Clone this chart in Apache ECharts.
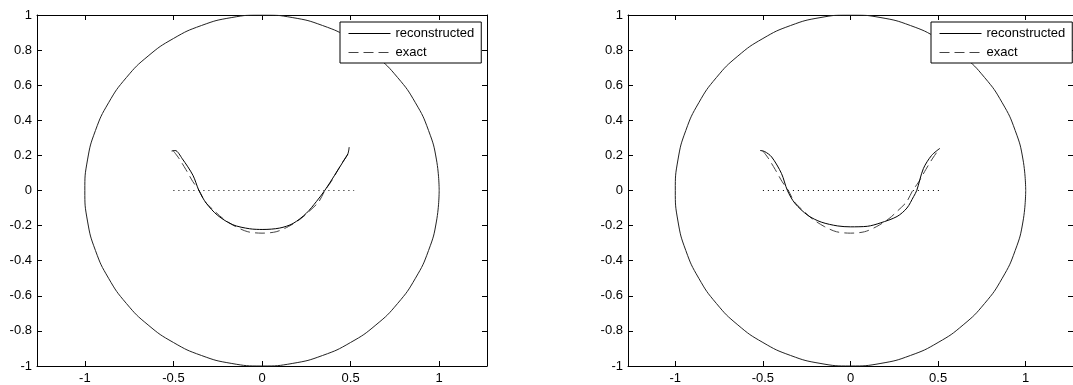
<!DOCTYPE html>
<html><head><meta charset="utf-8">
<script src="https://cdn.jsdelivr.net/npm/echarts@6/dist/echarts.min.js"></script>
<style>html,body{margin:0;padding:0;background:#fff}#c{width:1073px;height:385px}</style>
</head><body><div id="c"></div><script>
const xTicks = [-1, -0.5, 0, 0.5, 1];
const yTicks = [-1, -0.8, -0.6, -0.4, -0.2, 0, 0.2, 0.4, 0.6, 0.8, 1];
const seriesNames = ['reconstructed', 'exact'];
// unit circle boundary (10 degree steps)
const circleX = [1,0.985,0.94,0.866,0.766,0.643,0.5,0.342,0.174,0,-0.174,-0.342,-0.5,-0.643,-0.766,-0.866,-0.94,-0.985,-1,-0.985,-0.94,-0.866,-0.766,-0.643,-0.5,-0.342,-0.174,0,0.174,0.342,0.5,0.643,0.766,0.866,0.94,0.985,1];
const circleY = [0,0.174,0.342,0.5,0.643,0.766,0.866,0.94,0.985,1,0.985,0.94,0.866,0.766,0.643,0.5,0.342,0.174,0,-0.174,-0.342,-0.5,-0.643,-0.766,-0.866,-0.94,-0.985,-1,-0.985,-0.94,-0.866,-0.766,-0.643,-0.5,-0.342,-0.174,0];
const baseX = [-0.5, 0.52];
const baseY = [0, 0];
const exactX = [-0.5,-0.47,-0.43,-0.39,-0.355,-0.32,-0.27,-0.22,-0.15,-0.08,0,0.08,0.15,0.22,0.27,0.32,0.355,0.39,0.43,0.47,0.5];
const exactY = [0.225,0.185,0.12,0.05,0,-0.065,-0.115,-0.16,-0.205,-0.235,-0.243,-0.235,-0.205,-0.16,-0.115,-0.065,0,0.05,0.12,0.185,0.228];
const recon1X = [-0.51,-0.49,-0.45,-0.39,-0.356,-0.315,-0.25,-0.165,-0.07,0.005,0.1,0.175,0.25,0.307,0.354,0.41,0.457,0.485,0.492];
const recon1Y = [0.225,0.228,0.181,0.087,0,-0.072,-0.142,-0.195,-0.218,-0.222,-0.214,-0.188,-0.13,-0.063,0,0.087,0.163,0.21,0.247];
const recon2X = [-0.516,-0.49,-0.45,-0.394,-0.36,-0.318,-0.243,-0.167,-0.073,0,0.096,0.17,0.266,0.322,0.36,0.378,0.416,0.463,0.51];
const recon2Y = [0.228,0.222,0.191,0.097,0,-0.072,-0.142,-0.18,-0.202,-0.207,-0.204,-0.185,-0.148,-0.1,-0.035,0,0.125,0.2,0.24];

const zip = (a, b) => a.map((v, i) => [v, b[i]]);
const FONT = 'Liberation Sans, Arial, sans-serif';
const grids = [
  {left: 37, top: 15, width: 450, height: 354},
  {left: 628, top: 15, width: 450, height: 354}
];
const legendLeft = [340, 931];
const recons = [zip(recon1X, recon1Y), zip(recon2X, recon2Y)];

const xAxis = [], yAxis = [], series = [], legend = [];
grids.forEach((g, i) => {
  const axLine = {onZero: false, lineStyle: {color: '#000', width: 1}};
  xAxis.push({gridIndex: i, type: 'value', min: -1.27, max: 1.27, position: 'bottom',
    axisLine: axLine,
    axisTick: {inside: true, length: 5, customValues: xTicks, lineStyle: {color: '#000'}},
    axisLabel: {customValues: xTicks, margin: 6, color: '#000', fontSize: 13, fontFamily: FONT, formatter: v => String(v)},
    splitLine: {show: false}});
  xAxis.push({gridIndex: i, type: 'value', min: -1.27, max: 1.27, position: 'top',
    axisLine: axLine,
    axisTick: {inside: true, length: 5, customValues: xTicks, lineStyle: {color: '#000'}},
    axisLabel: {show: false}, splitLine: {show: false}});
  yAxis.push({gridIndex: i, type: 'value', min: -1, max: 1, interval: 0.2, position: 'left',
    axisLine: axLine,
    axisTick: {inside: true, length: 5, lineStyle: {color: '#000'}},
    axisLabel: {margin: 5, color: '#000', fontSize: 13, fontFamily: FONT, formatter: v => String(Number(v.toFixed(1)))},
    splitLine: {show: false}});
  yAxis.push({gridIndex: i, type: 'value', min: -1, max: 1, interval: 0.2, position: 'right',
    axisLine: axLine,
    axisTick: {inside: true, length: 5, lineStyle: {color: '#000'}},
    axisLabel: {show: false}, splitLine: {show: false}});
  const xi = i * 2, yi = i * 2;
  series.push({type: 'line', name: 'circle', xAxisIndex: xi, yAxisIndex: yi, data: zip(circleX, circleY),
    smooth: 0.5, symbol: 'none', lineStyle: {color: '#222', width: 1}, silent: true, z: 2});
  series.push({type: 'line', name: 'axis', xAxisIndex: xi, yAxisIndex: yi, data: zip(baseX, baseY),
    symbol: 'none', lineStyle: {color: '#000', width: 1, type: [1, 4]}, silent: true, z: 2});
  series.push({type: 'line', name: seriesNames[1], xAxisIndex: xi, yAxisIndex: yi, data: zip(exactX, exactY),
    smooth: 0.3, symbol: 'none', itemStyle: {color: '#444'}, lineStyle: {color: '#444', width: 1, type: [10, 5]}, z: 3});
  series.push({type: 'line', name: seriesNames[0], xAxisIndex: xi, yAxisIndex: yi, data: recons[i],
    smooth: 0.3, symbol: 'none', itemStyle: {color: '#000'}, lineStyle: {color: '#000', width: 1}, z: 4});
  legend.push({data: seriesNames, orient: 'vertical', left: legendLeft[i], top: 22,
    padding: [5, 7, 4, 8], itemWidth: 42, itemHeight: 14, itemGap: 6,
    itemStyle: {color: 'rgba(0,0,0,0)', borderWidth: 0, opacity: 0},
    lineStyle: {width: 1},
    backgroundColor: '#fff', borderColor: '#000', borderWidth: 1, borderRadius: 0,
    textStyle: {color: '#000', fontSize: 13, fontFamily: FONT}, selectedMode: false});
});

const chart = echarts.init(document.getElementById('c'), null, {renderer: 'canvas'});
chart.setOption({
  animation: false, backgroundColor: '#fff',
  grid: grids, xAxis, yAxis, series, legend
});
</script></body></html>
